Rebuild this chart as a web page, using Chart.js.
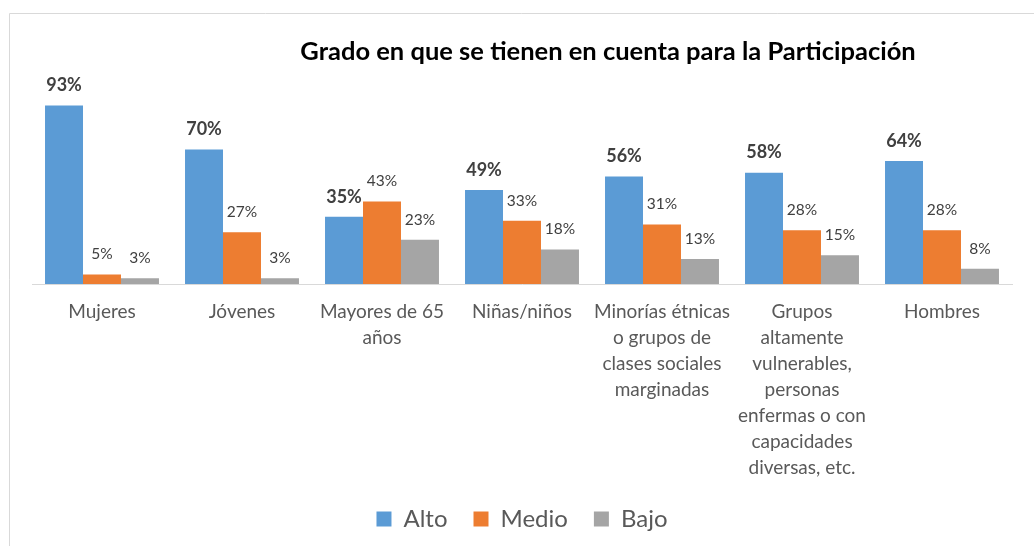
<!DOCTYPE html>
<html>
<head>
<meta charset="utf-8">
<script src="https://cdn.jsdelivr.net/npm/chart.js@4"></script>
<style>
  html, body { margin: 0; padding: 0; background: #fff; }
  #wrap { position: relative; width: 1034px; height: 546px; }
</style>
</head>
<body>
<div id="wrap"><canvas id="myChart" width="1034" height="546"></canvas></div>
<script>
const categories = [
  'Mujeres',
  'Jóvenes',
  ['Mayores de 65', 'años'],
  'Niñas/niños',
  ['Minorías étnicas', 'o grupos de', 'clases sociales', 'marginadas'],
  ['Grupos', 'altamente', 'vulnerables,', 'personas', 'enfermas o con', 'capacidades', 'diversas, etc.'],
  'Hombres'
]
const alto = [93, 70, 35, 49, 56, 58, 64]
const medio = [5, 27, 43, 33, 31, 28, 28]
const bajo = [3, 3, 23, 18, 13, 15, 8]
const chartTitle = 'Grado en que se tienen en cuenta para la Participación'

const FONT = 'Lato, "Open Sans", sans-serif'

// frame lines + title drawn on the canvas
const framePlugin = {
  id: 'frame',
  beforeDraw (chart) {
    const ctx = chart.ctx
    ctx.save()
    ctx.strokeStyle = '#d9d9d9'
    ctx.lineWidth = 1
    ctx.beginPath()
    ctx.moveTo(9.5, 546)
    ctx.lineTo(9.5, 13.5)
    ctx.lineTo(1034, 13.5)
    ctx.stroke()
    ctx.restore()
  },
  afterDraw (chart) {
    const ctx = chart.ctx
    ctx.save()
    ctx.font = 'bold 25.5px ' + FONT
    ctx.fillStyle = '#000'
    ctx.textAlign = 'center'
    ctx.textBaseline = 'middle'
    ctx.fillText(chartTitle, 608, 52)
    ctx.restore()
  }
}

// value labels above each bar
const valueLabels = {
  id: 'valueLabels',
  afterDatasetsDraw (chart) {
    const ctx = chart.ctx
    ctx.save()
    ctx.textAlign = 'center'
    ctx.textBaseline = 'middle'
    chart.data.datasets.forEach((ds, i) => {
      const meta = chart.getDatasetMeta(i)
      ctx.font = (i === 0 ? 'bold 18px ' : '15.5px ') + FONT
      ctx.fillStyle = '#404040'
      meta.data.forEach((bar, j) => {
        ctx.fillText(ds.data[j] + '%', bar.x, bar.y - 20)
      })
    })
    ctx.restore()
  }
}

new Chart(document.getElementById('myChart'), {
  type: 'bar',
  data: {
    labels: categories,
    datasets: [
      { label: 'Alto', data: alto, backgroundColor: '#5b9bd5' },
      { label: 'Medio', data: medio, backgroundColor: '#ed7d31' },
      { label: 'Bajo', data: bajo, backgroundColor: '#a5a5a5' }
    ]
  },
  options: {
    responsive: false,
    animation: false,
    layout: { padding: { left: 32, right: 22, top: 92, bottom: 5 } },
    datasets: {
      bar: { categoryPercentage: 0.814, barPercentage: 1.0 }
    },
    scales: {
      x: {
        grid: { display: false, drawTicks: false },
        border: { display: true, color: '#d9d9d9', width: 1 },
        ticks: {
          autoSkip: false,
          maxRotation: 0,
          padding: 15,
          color: '#595959',
          font: { family: FONT, size: 19, lineHeight: '26px' }
        },
        afterFit (scale) {
          scale.height = 197
        }
      },
      y: {
        display: false,
        min: 0,
        max: 100
      }
    },
    plugins: {
      title: { display: false },
      tooltip: { enabled: false },
      legend: {
        position: 'bottom',
        labels: {
          boxWidth: 15,
          boxHeight: 15,
          padding: 26,
          color: '#595959',
          font: { family: FONT, size: 24 }
        }
      }
    }
  },
  plugins: [framePlugin, valueLabels]
})
</script>
</body>
</html>
